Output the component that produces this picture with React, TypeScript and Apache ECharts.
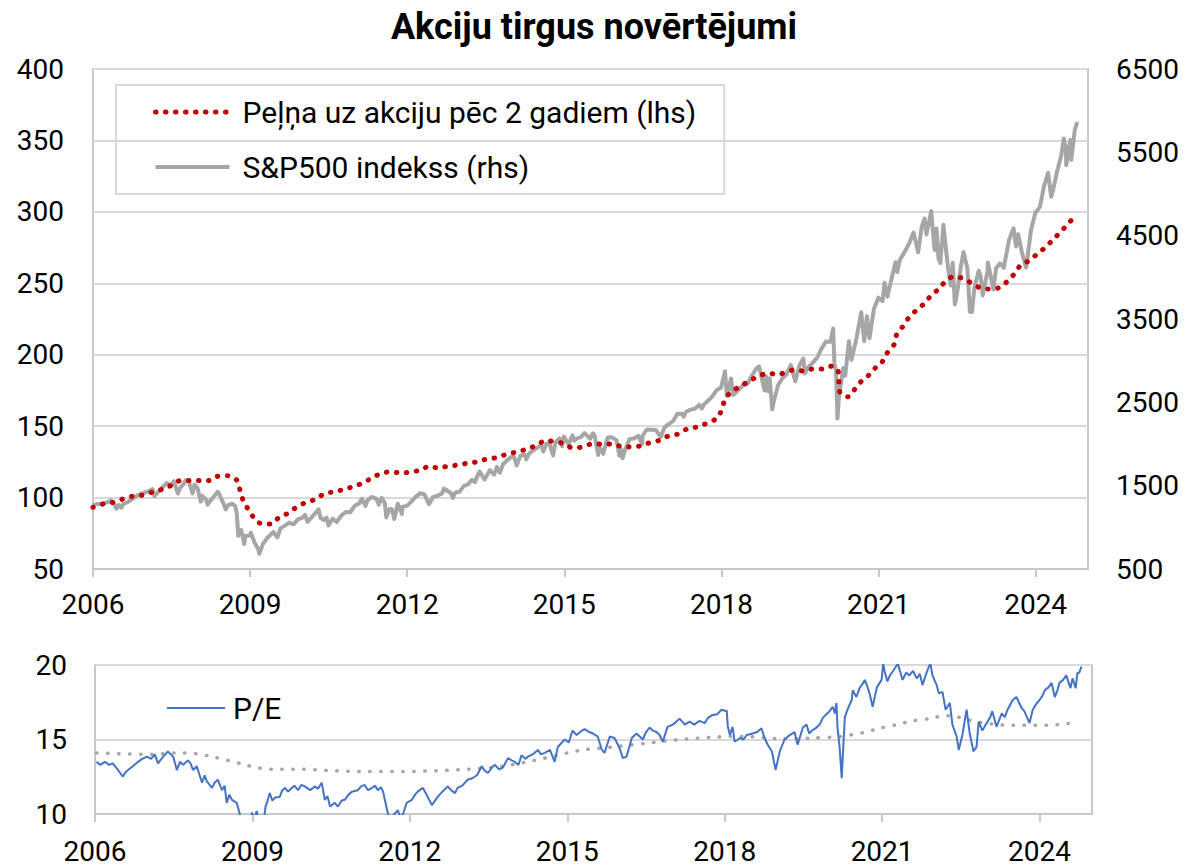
import React, { useEffect, useRef } from 'react';
import * as echarts from 'echarts';

const titleText = 'Akciju tirgus novērtējumi';
const epsName = 'Peļņa uz akciju pēc 2 gadiem (lhs)';
const spxName = 'S&P500 indekss (rhs)';
const peName = 'P/E';
const peAvgName = 'P/E vidējais';

const xTicks = [2006, 2009, 2012, 2015, 2018, 2021, 2024];
const rightTicks = [500, 1500, 2500, 3500, 4500, 5500, 6500];

// S&P 500 index (rhs)
const spx: [string, number][] = [
  ['2006-01-03', 1269], ['2006-01-31', 1280], ['2006-02-28', 1281], ['2006-03-31', 1295], ['2006-04-28', 1311],
  ['2006-05-05', 1325], ['2006-05-31', 1270], ['2006-06-13', 1224], ['2006-06-30', 1270], ['2006-07-18', 1236],
  ['2006-07-31', 1277], ['2006-08-31', 1304], ['2006-09-29', 1336], ['2006-10-31', 1378], ['2006-11-30', 1401],
  ['2006-12-29', 1418],
  ['2007-01-31', 1438], ['2007-02-20', 1460], ['2007-03-05', 1374], ['2007-03-30', 1421], ['2007-04-30', 1482],
  ['2007-05-31', 1531], ['2007-06-29', 1503], ['2007-07-19', 1553], ['2007-08-15', 1406], ['2007-08-31', 1474],
  ['2007-09-28', 1527], ['2007-10-09', 1565], ['2007-10-31', 1549], ['2007-11-26', 1407], ['2007-12-10', 1515],
  ['2007-12-31', 1468],
  ['2008-01-22', 1310], ['2008-01-31', 1379], ['2008-02-29', 1331], ['2008-03-10', 1273], ['2008-03-31', 1323],
  ['2008-04-30', 1386], ['2008-05-19', 1427], ['2008-05-30', 1400], ['2008-06-30', 1280], ['2008-07-15', 1215],
  ['2008-07-31', 1267], ['2008-08-29', 1283], ['2008-09-19', 1255], ['2008-09-30', 1166], ['2008-10-10', 899],
  ['2008-10-31', 969], ['2008-11-21', 800], ['2008-11-28', 896], ['2008-12-31', 903],
  ['2009-01-06', 935], ['2009-01-30', 826], ['2009-02-27', 735], ['2009-03-06', 683], ['2009-03-31', 798],
  ['2009-04-30', 873], ['2009-05-29', 919], ['2009-06-12', 946], ['2009-07-10', 879], ['2009-07-31', 987],
  ['2009-08-31', 1021], ['2009-09-30', 1057], ['2009-10-30', 1036], ['2009-11-30', 1096], ['2009-12-31', 1115],
  ['2010-01-19', 1150], ['2010-02-05', 1066], ['2010-02-26', 1104], ['2010-03-31', 1169], ['2010-04-23', 1217],
  ['2010-05-07', 1111], ['2010-05-31', 1089], ['2010-06-18', 1118], ['2010-07-02', 1022], ['2010-07-30', 1102],
  ['2010-08-27', 1065], ['2010-09-30', 1141], ['2010-10-29', 1183], ['2010-11-30', 1181], ['2010-12-31', 1258],
  ['2011-01-31', 1286], ['2011-02-18', 1343], ['2011-03-16', 1257], ['2011-03-31', 1326], ['2011-04-29', 1364],
  ['2011-05-31', 1345], ['2011-06-17', 1272], ['2011-07-07', 1353], ['2011-07-29', 1292], ['2011-08-08', 1119],
  ['2011-08-31', 1219], ['2011-09-16', 1216], ['2011-10-03', 1099], ['2011-10-27', 1285], ['2011-11-25', 1159],
  ['2011-11-30', 1247], ['2011-12-30', 1258],
  ['2012-01-31', 1312], ['2012-02-29', 1366], ['2012-03-30', 1408], ['2012-04-30', 1398], ['2012-06-01', 1278],
  ['2012-06-29', 1362], ['2012-07-31', 1379], ['2012-08-31', 1407], ['2012-09-14', 1466], ['2012-10-31', 1412],
  ['2012-11-15', 1353], ['2012-11-30', 1416], ['2012-12-31', 1426],
  ['2013-01-31', 1498], ['2013-02-28', 1515], ['2013-03-28', 1569], ['2013-04-18', 1541], ['2013-04-30', 1598],
  ['2013-05-21', 1669], ['2013-06-24', 1573], ['2013-07-31', 1686], ['2013-08-30', 1633], ['2013-09-18', 1725],
  ['2013-10-08', 1656], ['2013-10-31', 1757], ['2013-11-29', 1806], ['2013-12-31', 1848],
  ['2014-01-15', 1848], ['2014-02-03', 1742], ['2014-02-28', 1859], ['2014-03-31', 1872], ['2014-04-11', 1815],
  ['2014-04-30', 1884], ['2014-05-30', 1924], ['2014-06-30', 1960], ['2014-07-24', 1988], ['2014-08-07', 1910],
  ['2014-08-29', 2003], ['2014-09-18', 2011], ['2014-10-15', 1862], ['2014-10-31', 2018], ['2014-11-28', 2068],
  ['2014-12-16', 1973], ['2014-12-29', 2090],
  ['2015-01-30', 1995], ['2015-02-27', 2105], ['2015-03-11', 2040], ['2015-03-31', 2068], ['2015-04-30', 2086],
  ['2015-05-21', 2131], ['2015-06-30', 2063], ['2015-07-20', 2129], ['2015-07-31', 2104], ['2015-08-25', 1868],
  ['2015-08-31', 1972], ['2015-09-29', 1882], ['2015-10-30', 2079], ['2015-11-30', 2080], ['2015-12-31', 2044],
  ['2016-01-20', 1859], ['2016-01-29', 1940], ['2016-02-11', 1829], ['2016-02-29', 1932], ['2016-03-31', 2060],
  ['2016-04-29', 2065], ['2016-05-31', 2097], ['2016-06-27', 2001], ['2016-06-30', 2099], ['2016-07-29', 2174],
  ['2016-08-31', 2171], ['2016-09-30', 2168], ['2016-11-04', 2085], ['2016-11-30', 2199], ['2016-12-30', 2239],
  ['2017-01-31', 2279], ['2017-02-28', 2364], ['2017-03-31', 2363], ['2017-04-13', 2329], ['2017-04-28', 2384],
  ['2017-05-31', 2412], ['2017-06-30', 2423], ['2017-07-31', 2470], ['2017-08-18', 2426], ['2017-08-31', 2472],
  ['2017-09-29', 2519], ['2017-10-31', 2575], ['2017-11-30', 2648], ['2017-12-29', 2674],
  ['2018-01-26', 2873], ['2018-02-08', 2581], ['2018-02-28', 2714], ['2018-03-09', 2786], ['2018-03-23', 2588],
  ['2018-04-30', 2648], ['2018-05-31', 2705], ['2018-06-29', 2718], ['2018-07-31', 2816], ['2018-08-31', 2902],
  ['2018-09-20', 2931], ['2018-10-29', 2641], ['2018-11-07', 2814], ['2018-11-23', 2633], ['2018-12-03', 2790],
  ['2018-12-21', 2417], ['2018-12-31', 2507],
  ['2019-01-31', 2704], ['2019-02-28', 2784], ['2019-03-29', 2834], ['2019-04-30', 2946], ['2019-05-31', 2752],
  ['2019-06-28', 2942], ['2019-07-26', 3026], ['2019-08-05', 2845], ['2019-08-30', 2926], ['2019-09-30', 2977],
  ['2019-10-31', 3038], ['2019-11-29', 3141], ['2019-12-31', 3231],
  ['2020-01-31', 3226], ['2020-02-19', 3386], ['2020-02-28', 2954], ['2020-03-10', 2882], ['2020-03-20', 2305],
  ['2020-03-31', 2585], ['2020-04-30', 2912], ['2020-05-13', 2820], ['2020-06-08', 3232], ['2020-06-26', 3009],
  ['2020-07-31', 3271], ['2020-09-02', 3580], ['2020-09-23', 3237], ['2020-10-12', 3534], ['2020-10-30', 3270],
  ['2020-11-30', 3622], ['2020-12-31', 3756],
  ['2021-01-29', 3714], ['2021-02-12', 3934], ['2021-03-04', 3768], ['2021-03-31', 3973], ['2021-04-30', 4181],
  ['2021-05-12', 4063], ['2021-05-28', 4204], ['2021-06-30', 4298], ['2021-07-30', 4395], ['2021-09-02', 4537],
  ['2021-10-04', 4300], ['2021-10-29', 4605], ['2021-11-18', 4704], ['2021-12-01', 4513], ['2021-12-31', 4766],
  ['2022-01-03', 4796], ['2022-01-27', 4326], ['2022-02-09', 4587], ['2022-02-23', 4226], ['2022-03-08', 4171],
  ['2022-03-29', 4631], ['2022-04-29', 4132], ['2022-05-20', 3901], ['2022-06-02', 4176], ['2022-06-17', 3675],
  ['2022-06-30', 3785], ['2022-07-29', 4130], ['2022-08-16', 4305], ['2022-09-12', 4110], ['2022-09-30', 3586],
  ['2022-10-14', 3583], ['2022-10-31', 3872], ['2022-11-30', 4080], ['2022-12-13', 4020], ['2022-12-28', 3783],
  ['2023-01-31', 4077], ['2023-02-02', 4179], ['2023-03-13', 3855], ['2023-03-31', 4109], ['2023-04-28', 4169],
  ['2023-05-24', 4115], ['2023-06-30', 4450], ['2023-07-31', 4589], ['2023-08-18', 4370], ['2023-09-01', 4516],
  ['2023-09-29', 4288], ['2023-10-27', 4117], ['2023-11-30', 4568], ['2023-12-29', 4770],
  ['2024-01-31', 4846], ['2024-02-29', 5096], ['2024-03-28', 5254], ['2024-04-19', 4967], ['2024-04-30', 5036],
  ['2024-05-31', 5278], ['2024-06-28', 5460], ['2024-07-16', 5667], ['2024-07-31', 5522], ['2024-08-02', 5346],
  ['2024-08-30', 5648], ['2024-09-06', 5408], ['2024-09-30', 5762], ['2024-10-18', 5864],
];

// Earnings per share two years ahead (lhs), x in decimal years
const eps: [number, number][] = [
  [2006.0, 93.2], [2006.19, 95.5], [2006.38, 96.6], [2006.57, 99], [2006.76, 101], [2006.95, 101.8],
  [2007.15, 104], [2007.34, 106], [2007.51, 108.8], [2007.68, 112], [2007.87, 112], [2008.06, 112],
  [2008.23, 112], [2008.39, 115], [2008.58, 115.3], [2008.75, 112], [2008.81, 104.8], [2008.87, 97.8],
  [2008.96, 92], [2009.07, 86], [2009.23, 81.5], [2009.4, 81.5], [2009.55, 86], [2009.72, 89],
  [2009.9, 93.6], [2010.07, 96.6], [2010.26, 99], [2010.43, 103], [2010.62, 104], [2010.81, 106],
  [2011.0, 108], [2011.19, 111], [2011.37, 114.6], [2011.54, 117.4], [2011.71, 118], [2011.9, 117],
  [2012.05, 118], [2012.24, 119], [2012.43, 122], [2012.59, 120.7], [2012.78, 122], [2012.97, 122.8],
  [2013.14, 124], [2013.33, 125], [2013.52, 127], [2013.71, 128], [2013.91, 130.5], [2014.1, 132],
  [2014.29, 134], [2014.48, 136.8], [2014.65, 140], [2014.82, 139], [2014.97, 138], [2015.17, 134.7],
  [2015.34, 135.4], [2015.53, 137.5], [2015.72, 137.5], [2015.89, 137.5], [2016.06, 136], [2016.23, 135.4],
  [2016.43, 136], [2016.6, 138], [2016.81, 140], [2016.98, 143], [2017.17, 144.5], [2017.34, 148],
  [2017.53, 149.4], [2017.72, 152], [2017.92, 155.7], [2018.01, 162], [2018.07, 169], [2018.2, 174.3],
  [2018.39, 178.5], [2018.55, 182], [2018.72, 185], [2018.89, 187.2], [2019.06, 186], [2019.25, 188],
  [2019.4, 189.5], [2019.56, 188.6], [2019.75, 190], [2019.94, 190], [2020.11, 192], [2020.23, 188.4],
  [2020.26, 174], [2020.42, 170.5], [2020.55, 176], [2020.68, 181.7], [2020.84, 186.5], [2020.97, 192],
  [2021.07, 195], [2021.16, 201], [2021.3, 207.3], [2021.35, 214.5], [2021.47, 220], [2021.58, 226],
  [2021.72, 231], [2021.87, 235.7], [2022.0, 241.3], [2022.15, 246], [2022.29, 251.8], [2022.42, 254.5],
  [2022.56, 254], [2022.69, 252], [2022.83, 248.8], [2022.98, 246.3], [2023.15, 246], [2023.32, 247.2],
  [2023.47, 251.8], [2023.6, 256.8], [2023.72, 263], [2023.87, 265.7], [2024.03, 270.5], [2024.16, 274.4],
  [2024.31, 279.7], [2024.45, 285], [2024.58, 290], [2024.72, 295.7],
];

// P/E ratio (bottom panel)
const pe: [number, number][] = [
  [2006.03, 13.5], [2006.1, 13.3], [2006.19, 13.5], [2006.27, 13.3], [2006.34, 13.4], [2006.44, 12.95],
  [2006.53, 12.5], [2006.58, 12.8], [2006.63, 12.95], [2006.72, 13.2], [2006.82, 13.5], [2006.9, 13.7],
  [2006.99, 13.85], [2007.07, 13.7], [2007.14, 14.0], [2007.2, 13.4], [2007.3, 13.85], [2007.39, 14.2],
  [2007.49, 13.85], [2007.56, 12.95], [2007.62, 13.5], [2007.68, 13.3], [2007.77, 13.6], [2007.82, 13.4],
  [2007.87, 12.95], [2007.94, 13.2], [2008.04, 12.1], [2008.09, 12.6], [2008.13, 12.2], [2008.23, 11.75],
  [2008.28, 12.1], [2008.34, 12.3], [2008.42, 11.6], [2008.47, 11.9], [2008.51, 10.75], [2008.56, 11.3],
  [2008.61, 10.95], [2008.7, 10.75], [2008.76, 10.0], [2008.8, 8.8], [2008.88, 8.2], [2008.95, 9.3],
  [2008.99, 10.1], [2009.03, 9.6], [2009.08, 10.2], [2009.13, 9.4], [2009.18, 8.5], [2009.22, 9.6],
  [2009.25, 10.5], [2009.29, 10.9], [2009.33, 11.4], [2009.38, 10.9], [2009.43, 11.1], [2009.52, 11.15],
  [2009.57, 11.6], [2009.62, 11.75], [2009.68, 11.5], [2009.75, 11.75], [2009.8, 11.9], [2009.87, 11.6],
  [2009.93, 11.95], [2010.0, 11.85], [2010.1, 11.6], [2010.19, 11.85], [2010.25, 11.7], [2010.32, 12.1],
  [2010.38, 10.95], [2010.43, 11.2], [2010.48, 10.5], [2010.57, 10.75], [2010.63, 10.5], [2010.7, 10.9],
  [2010.76, 10.95], [2010.83, 11.3], [2010.9, 11.5], [2011.01, 11.6], [2011.07, 11.85], [2011.14, 11.95],
  [2011.2, 11.6], [2011.28, 11.75], [2011.34, 11.9], [2011.39, 11.6], [2011.45, 11.8], [2011.49, 11.5],
  [2011.58, 10.05], [2011.63, 9.7], [2011.68, 9.9], [2011.77, 10.25], [2011.82, 9.8], [2011.87, 10.0],
  [2011.94, 10.75], [2012.04, 10.95], [2012.1, 11.3], [2012.15, 11.5], [2012.25, 11.75], [2012.34, 11.15],
  [2012.42, 10.6], [2012.48, 10.9], [2012.53, 11.15], [2012.62, 11.5], [2012.72, 11.85], [2012.79, 11.6],
  [2012.86, 11.4], [2012.91, 11.75], [2013.0, 11.9], [2013.1, 12.3], [2013.19, 12.4], [2013.28, 12.6],
  [2013.37, 13.2], [2013.43, 12.9], [2013.49, 12.75], [2013.56, 13.1], [2013.62, 13.3], [2013.7, 13.0],
  [2013.77, 13.1], [2013.87, 13.75], [2013.94, 13.6], [2014.0, 13.5], [2014.07, 13.3], [2014.13, 13.95],
  [2014.2, 13.7], [2014.25, 13.85], [2014.34, 14.0], [2014.44, 14.3], [2014.5, 14.0], [2014.57, 14.1],
  [2014.67, 14.3], [2014.76, 13.5], [2014.82, 14.5], [2014.95, 15.0], [2015.03, 14.8], [2015.1, 15.6],
  [2015.18, 15.3], [2015.28, 15.6], [2015.33, 15.7], [2015.42, 15.5], [2015.49, 15.4], [2015.58, 15.2],
  [2015.66, 14.3], [2015.71, 14.1], [2015.81, 15.2], [2015.9, 15.1], [2016.0, 14.4], [2016.06, 13.75],
  [2016.13, 13.85], [2016.23, 15.1], [2016.32, 15.4], [2016.38, 15.2], [2016.44, 15.0], [2016.5, 15.5],
  [2016.57, 15.8], [2016.63, 15.6], [2016.7, 15.5], [2016.76, 15.3], [2016.82, 14.85], [2016.91, 15.85],
  [2017.01, 16.0], [2017.08, 16.2], [2017.14, 16.4], [2017.24, 16.0], [2017.33, 16.2], [2017.42, 16.0],
  [2017.52, 16.25], [2017.62, 16.1], [2017.68, 16.45], [2017.77, 16.65], [2017.86, 16.7], [2017.94, 17.0],
  [2018.04, 16.9], [2018.06, 15.85], [2018.1, 15.3], [2018.15, 15.85], [2018.19, 14.85], [2018.29, 15.1],
  [2018.36, 15.0], [2018.42, 15.3], [2018.53, 15.4], [2018.62, 15.5], [2018.7, 15.75], [2018.76, 15.1],
  [2018.82, 14.65], [2018.9, 14.2], [2018.97, 12.95], [2019.05, 14.2], [2019.14, 15.0], [2019.24, 15.3],
  [2019.33, 15.5], [2019.39, 14.65], [2019.49, 15.8], [2019.56, 16.0], [2019.61, 15.4], [2019.66, 15.6],
  [2019.75, 15.8], [2019.81, 16.0], [2019.87, 16.45], [2019.94, 16.7], [2020.0, 16.9], [2020.06, 17.2],
  [2020.1, 16.75], [2020.13, 17.45], [2020.15, 15.8], [2020.19, 14.5], [2020.23, 12.4], [2020.25, 13.8],
  [2020.29, 16.5], [2020.34, 17.0], [2020.42, 17.65], [2020.44, 18.3], [2020.51, 17.85], [2020.57, 18.45],
  [2020.62, 18.7], [2020.67, 19.0], [2020.72, 18.55], [2020.76, 18.1], [2020.82, 17.2], [2020.9, 18.5],
  [2020.99, 19.0], [2021.02, 20.1], [2021.05, 19.55], [2021.1, 18.9], [2021.15, 19.3], [2021.2, 19.55],
  [2021.3, 20.1], [2021.34, 19.6], [2021.39, 19.0], [2021.46, 19.5], [2021.52, 19.3], [2021.59, 19.6],
  [2021.66, 19.1], [2021.72, 19.4], [2021.77, 18.65], [2021.82, 19.2], [2021.87, 19.7], [2021.92, 20.1],
  [2021.96, 19.3], [2022.04, 18.65], [2022.08, 18.1], [2022.15, 18.2], [2022.21, 17.0], [2022.29, 17.45],
  [2022.34, 16.0], [2022.42, 15.2], [2022.46, 14.3], [2022.53, 15.3], [2022.61, 17.0], [2022.67, 15.4],
  [2022.74, 14.2], [2022.8, 14.5], [2022.84, 16.2], [2022.91, 15.6], [2022.96, 15.9], [2023.01, 16.2],
  [2023.06, 16.5], [2023.1, 16.9], [2023.18, 15.85], [2023.23, 16.3], [2023.28, 16.75], [2023.34, 16.5],
  [2023.39, 17.0], [2023.49, 17.65], [2023.56, 17.85], [2023.66, 17.1], [2023.71, 16.9], [2023.81, 16.1],
  [2023.87, 17.0], [2023.94, 17.4], [2024.0, 17.65], [2024.05, 17.9], [2024.1, 18.3], [2024.17, 18.5],
  [2024.23, 18.8], [2024.29, 17.85], [2024.34, 18.3], [2024.38, 18.8], [2024.45, 19.0], [2024.51, 19.3],
  [2024.59, 18.45], [2024.63, 19.1], [2024.69, 18.45], [2024.72, 19.45], [2024.76, 19.5], [2024.8, 19.9],
];

// Long-term average P/E (grey dotted)
const peAvg: [number, number][] = [
  [2006.03, 14.1], [2006.44, 14.05], [2007.09, 14.0], [2007.53, 14.1], [2007.91, 14.05], [2008.23, 13.85],
  [2008.53, 13.6], [2008.86, 13.3], [2009.1, 13.1], [2009.37, 13.0], [2009.94, 13.0], [2010.57, 12.9],
  [2011.2, 12.85], [2011.85, 12.85], [2012.48, 12.9], [2013.1, 13.0], [2013.75, 13.2], [2014.38, 13.6],
  [2015.01, 14.1], [2015.3, 14.3], [2015.87, 14.5], [2016.51, 14.75], [2017.14, 15.0], [2017.77, 15.15],
  [2018.1, 15.2], [2018.42, 15.2], [2019.05, 15.05], [2019.68, 15.1], [2020.19, 15.2], [2020.63, 15.45],
  [2020.95, 15.75], [2021.28, 16.0], [2021.58, 16.25], [2021.91, 16.4], [2022.2, 16.6], [2022.45, 16.5],
  [2022.86, 16.15], [2023.49, 15.95], [2024.13, 15.95], [2024.7, 16.15],
];

function toYear(d: string): number {
  const [y, m, day] = d.split('-').map(Number);
  const start = Date.UTC(y, 0, 1);
  const end = Date.UTC(y + 1, 0, 1);
  return y + (Date.UTC(y, m - 1, day) - start) / (end - start);
}

const FONT = 'Roboto';
const GRID_BORDER = '#c8c8c8';
const SPLIT = '#d9d9d9';
const RED = '#c00000';
const GREY = '#a6a6a6';
const BLUE = '#4472c4';
const redLine = { color: RED, width: 5, type: [0.5, 9.5], cap: 'round' };
const greyLine = { color: GREY, width: 4, join: 'round' };
const blueLine = { color: BLUE, width: 2 };

export default function App() {
  const ref = useRef<HTMLDivElement>(null);

  useEffect(() => {
    if (!ref.current) return;
    const chart = echarts.init(ref.current, null, { renderer: 'svg' });
    const label = { color: '#000', fontSize: 28, fontFamily: FONT };
    const legendText = { color: '#000', fontSize: 30, fontFamily: FONT };
    const xAxisBase = (gridIndex: number, margin: number) => ({
      type: 'value',
      gridIndex,
      min: 2006,
      max: 2025,
      axisLine: { show: true, onZero: false, lineStyle: { color: GRID_BORDER, width: 2 } },
      axisTick: { show: true, customValues: xTicks, length: 8, lineStyle: { color: GRID_BORDER, width: 2 } },
      axisLabel: { ...label, customValues: xTicks, margin, formatter: (v: number) => String(v) },
      splitLine: { show: false },
    });

    chart.setOption({
      animation: false,
      backgroundColor: '#ffffff',
      title: {
        text: titleText,
        left: 'center',
        top: 9,
        padding: 0,
        textStyle: { color: '#000', fontSize: 36, fontWeight: 'bold', fontFamily: FONT },
      },
      legend: [
        {
          data: [
            { name: epsName, itemStyle: { opacity: 0 }, lineStyle: redLine },
            { name: spxName, itemStyle: { opacity: 0 }, lineStyle: greyLine },
          ],
          orient: 'vertical',
          left: 116,
          top: 85,
          borderColor: SPLIT,
          borderWidth: 2,
          padding: [12, 28, 12, 37],
          itemWidth: 74,
          itemHeight: 14,
          itemGap: 25,
          selectedMode: false,
          textStyle: { ...legendText, padding: [0, 0, 0, 8] },
        },
        {
          data: [{ name: peName, itemStyle: { opacity: 0 }, lineStyle: blueLine }],
          left: 166,
          top: 693,
          padding: 0,
          itemWidth: 58,
          itemHeight: 14,
          selectedMode: false,
          textStyle: { ...legendText, padding: [0, 0, 0, 3] },
        },
      ],
      grid: [
        { left: 93, right: 100, top: 69, height: 500, show: true, borderColor: GRID_BORDER, borderWidth: 2 },
        { left: 95, right: 96, top: 665, height: 149, show: true, borderColor: GRID_BORDER, borderWidth: 2 },
      ],
      xAxis: [xAxisBase(0, 21), xAxisBase(1, 23)],
      yAxis: [
        {
          type: 'value',
          gridIndex: 0,
          position: 'left',
          min: 50,
          max: 400,
          interval: 50,
          axisLine: { show: false },
          axisTick: { show: false },
          axisLabel: { ...label, margin: 29 },
          splitLine: { show: true, lineStyle: { color: SPLIT, width: 2 } },
        },
        {
          type: 'value',
          gridIndex: 0,
          position: 'right',
          min: 500,
          max: 6500,
          axisLine: { show: false },
          axisTick: { show: false },
          axisLabel: { ...label, margin: 28, customValues: rightTicks, formatter: (v: number) => String(v) },
          splitLine: { show: false },
        },
        {
          type: 'value',
          gridIndex: 1,
          position: 'left',
          min: 10,
          max: 20,
          interval: 5,
          axisLine: { show: false },
          axisTick: { show: false },
          axisLabel: { ...label, margin: 28 },
          splitLine: { show: true, lineStyle: { color: SPLIT, width: 2 } },
        },
      ],
      series: [
        {
          name: spxName,
          type: 'line',
          xAxisIndex: 0,
          yAxisIndex: 1,
          data: spx.map(([d, v]) => [toYear(d), v]),
          symbol: 'none',
          showSymbol: false,
          lineStyle: greyLine,
          itemStyle: { color: GREY },
        },
        {
          name: epsName,
          type: 'line',
          xAxisIndex: 0,
          yAxisIndex: 0,
          data: eps,
          symbol: 'none',
          showSymbol: false,
          smooth: 0.3,
          lineStyle: redLine,
          itemStyle: { color: RED },
        },
        {
          name: peAvgName,
          type: 'line',
          xAxisIndex: 1,
          yAxisIndex: 2,
          data: peAvg,
          symbol: 'none',
          showSymbol: false,
          smooth: 0.3,
          lineStyle: { color: GREY, width: 3.5, type: [0.5, 10.5], cap: 'round' },
          itemStyle: { color: GREY },
        },
        {
          name: peName,
          type: 'line',
          xAxisIndex: 1,
          yAxisIndex: 2,
          data: pe,
          symbol: 'none',
          showSymbol: false,
          clip: true,
          lineStyle: blueLine,
          itemStyle: { color: BLUE },
        },
      ],
    });
    return () => chart.dispose();
  }, []);

  return (
    <div
      ref={ref}
      style={{ position: 'absolute', left: 0, top: 0, width: 1188, height: 866, background: '#fff' }}
    />
  );
}
